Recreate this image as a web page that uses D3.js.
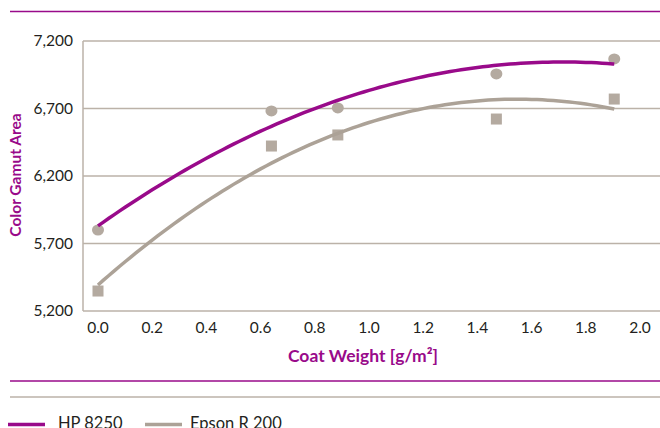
<!DOCTYPE html>
<html><head><meta charset="utf-8">
<script src="https://cdn.jsdelivr.net/npm/d3@7"></script>
<style>html,body{margin:0;padding:0;background:#fff;overflow:hidden}svg{display:block}</style>
</head><body>
<script>
const coatWeight = [0, 0.64, 0.885, 1.47, 1.905];
const hp8250 = [5800, 6682, 6704, 6956, 7067];
const epsonR200 = [5348, 6422, 6504, 6622, 6770];
const yTicks = [5200, 5700, 6200, 6700, 7200];
const xTicks = [0, 0.2, 0.4, 0.6, 0.8, 1.0, 1.2, 1.4, 1.6, 1.8, 2.0];
const seriesNames = ["HP 8250", "Epson R 200"];

const W = 660, H = 428;
const MAG = "#990a8a", GRAY = "#aca297", MARK = "#b4aaa0", GRID = "#bbb2a8", TXT = "#231f20";
const FONT = "Lato, 'Open Sans', sans-serif";

const svg = d3.select("body").append("svg").attr("width", W).attr("height", H);

const x = d3.scaleLinear().domain([0, 2]).range([98, 640]);
const y = d3.scaleLinear().domain([5200, 7200]).range([311, 41]);
const plotLeft = 83, plotRight = 660;

// quadratic least squares fit of the data (trend line)
function quadFit(xs, ys) {
  let n = xs.length, s = [0,0,0,0,0], t = [0,0,0];
  for (let i = 0; i < n; i++) {
    let p = 1;
    for (let k = 0; k < 5; k++) { s[k] += p; if (k < 3) t[k] += p * ys[i]; p *= xs[i]; }
  }
  const A = [[s[0], s[1], s[2], t[0]], [s[1], s[2], s[3], t[1]], [s[2], s[3], s[4], t[2]]];
  for (let i = 0; i < 3; i++) {
    for (let j = i + 1; j < 3; j++) {
      const f = A[j][i] / A[i][i];
      for (let k = i; k < 4; k++) A[j][k] -= f * A[i][k];
    }
  }
  const c = [0,0,0];
  for (let i = 2; i >= 0; i--) {
    let v = A[i][3];
    for (let k = i + 1; k < 3; k++) v -= A[i][k] * c[k];
    c[i] = v / A[i][i];
  }
  return xv => c[0] + c[1] * xv + c[2] * xv * xv;
}

// top separator
svg.append("line").attr("x1", 10).attr("x2", W).attr("y1", 11.5).attr("y2", 11.5)
  .attr("stroke", MAG).attr("stroke-width", 1.5);

// gridlines
svg.append("g").selectAll("line").data(yTicks).join("line")
  .attr("x1", plotLeft).attr("x2", plotRight)
  .attr("y1", d => y(d)).attr("y2", d => y(d))
  .attr("stroke", GRID).attr("stroke-width", 1.5);
svg.append("line").attr("x1", plotLeft).attr("x2", plotLeft).attr("y1", y(7200)).attr("y2", y(5200))
  .attr("stroke", GRID).attr("stroke-width", 1.5);

// y tick labels
svg.append("g").selectAll("text").data(yTicks).join("text")
  .attr("x", 73).attr("y", d => y(d)).attr("dy", "0.35em")
  .attr("text-anchor", "end").attr("font-family", FONT).attr("font-size", 15.5).attr("fill", TXT)
  .text(d => d3.format(",")(d));

// x tick labels
svg.append("g").selectAll("text").data(xTicks).join("text")
  .attr("x", d => x(d)).attr("y", 328).attr("dy", "0.35em")
  .attr("text-anchor", "middle").attr("font-family", FONT).attr("font-size", 15.5).attr("fill", TXT)
  .text(d => d3.format(".1f")(d));

// axis titles
svg.append("text").attr("transform", "translate(21,175) rotate(-90)")
  .attr("text-anchor", "middle").attr("font-family", FONT).attr("font-weight", "bold")
  .attr("font-size", 15.5).attr("fill", MAG).text("Color Gamut Area");
svg.append("text").attr("x", 363).attr("y", 356).attr("dy", "0.35em")
  .attr("text-anchor", "middle").attr("font-family", FONT).attr("font-weight", "bold")
  .attr("font-size", 17.5).attr("fill", MAG).text("Coat Weight [g/m²]");

// markers
svg.append("g").selectAll("ellipse").data(coatWeight).join("ellipse")
  .attr("cx", d => x(d)).attr("cy", (d, i) => y(hp8250[i]))
  .attr("rx", 6).attr("ry", 5.5).attr("fill", MARK);
svg.append("g").selectAll("rect").data(coatWeight).join("rect")
  .attr("x", d => x(d) - 5.5).attr("y", (d, i) => y(epsonR200[i]) - 5.5)
  .attr("width", 11).attr("height", 11).attr("fill", MARK);

// trend lines
const samples = d3.range(0, 1.905 + 1e-9, 0.02).concat([1.905]);
const line = d3.line().x(d => x(d[0])).y(d => y(d[1])).curve(d3.curveLinear);
[[hp8250, MAG], [epsonR200, GRAY]].forEach(([vals, col]) => {
  const f = quadFit(coatWeight, vals);
  svg.append("path").attr("d", line(samples.map(s => [s, f(s)])))
    .attr("fill", "none").attr("stroke", col).attr("stroke-width", 3.5);
});

// bottom separators
svg.append("line").attr("x1", 10).attr("x2", W).attr("y1", 381).attr("y2", 381)
  .attr("stroke", MAG).attr("stroke-width", 1.5);
svg.append("line").attr("x1", 10).attr("x2", W).attr("y1", 397).attr("y2", 397)
  .attr("stroke", GRID).attr("stroke-width", 1.5);

// legend (cut at the bottom edge, as in the reference)
const leg = [{x1: 8, x2: 45, tx: 58, col: MAG}, {x1: 145, x2: 182, tx: 190, col: GRAY}];
leg.forEach((l, i) => {
  svg.append("line").attr("x1", l.x1).attr("x2", l.x2).attr("y1", 424.5).attr("y2", 424.5)
    .attr("stroke", l.col).attr("stroke-width", 3.5);
  svg.append("text").attr("x", l.tx).attr("y", 429).attr("font-family", FONT)
    .attr("font-size", 16.5).attr("fill", TXT).text(seriesNames[i]);
});
</script>
</body></html>
